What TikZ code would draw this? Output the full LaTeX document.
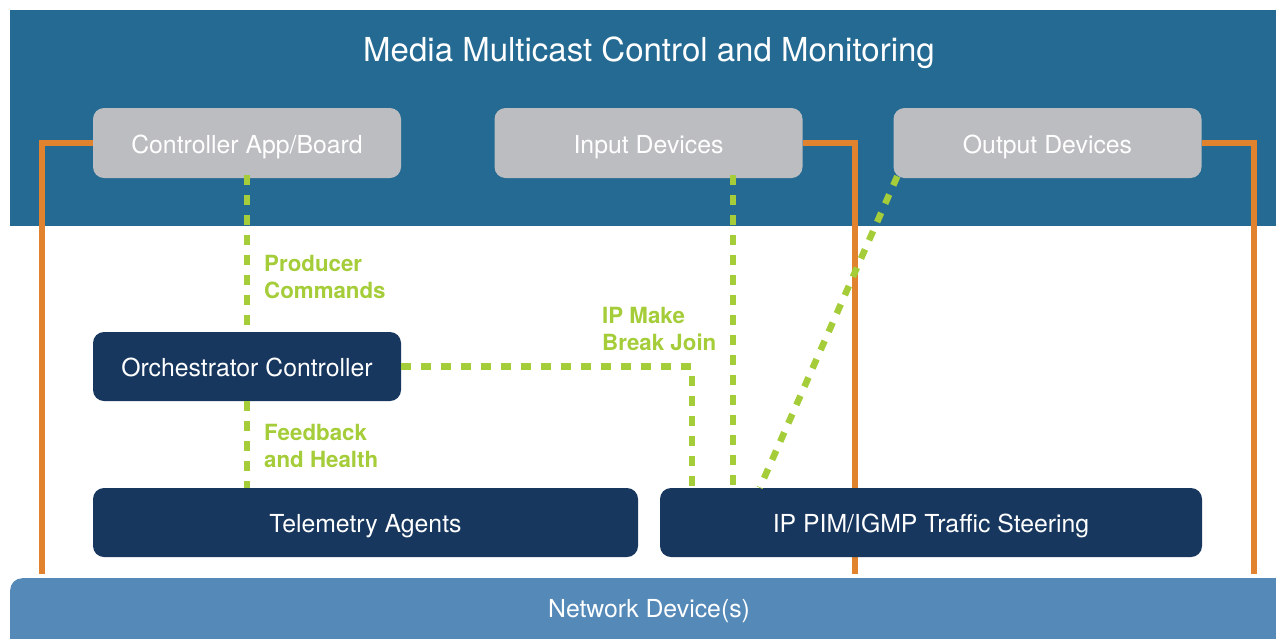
\documentclass[tikz,border=0pt]{standalone}
\usepackage{fontspec}
\setmainfont{TeX Gyre Heros}
\definecolor{bandblue}{RGB}{36,106,146}
\definecolor{boxgray}{RGB}{188,189,193}
\definecolor{navy}{RGB}{23,55,94}
\definecolor{netblue}{RGB}{84,137,184}
\definecolor{wire}{RGB}{224,130,46}
\definecolor{sgreen}{RGB}{165,205,57}
\tikzset{
  boxfont/.style={font=\fontsize{24.8}{28}\selectfont},
  graybox/.style={fill=boxgray, rounded corners=11pt, text=white, inner sep=0pt,
    minimum width=308pt, minimum height=70pt, text height=21pt, text depth=0pt, boxfont},
  navybox/.style={fill=navy, rounded corners=11pt, text=white, inner sep=0pt,
    minimum height=69pt, text height=19pt, text depth=0pt, boxfont},
  wireline/.style={draw=wire, line width=6pt, line join=miter},
  signal/.style={draw=sgreen, line width=6.5pt, dash pattern=on 10pt off 10pt},
  siglabel/.style={text=sgreen, font=\fontsize{22.3}{27}\selectfont\bfseries,
    align=left, anchor=west, inner sep=0pt}
}
\begin{document}
\begin{tikzpicture}[x=1pt,y=-1pt]
\clip (0,0) rectangle (1276,638);
\fill[white] (0,0) rectangle (1276,638);
% top control band
\fill[bandblue] (10,10) rectangle (1290,226);
\node[text=white, font=\fontsize{33}{38}\selectfont] (title) at (649,53) {Media Multicast Control and Monitoring};

% application-layer boxes
\node[graybox] (ctrl) at (247,143) {Controller App/Board};
\node[graybox] (input) at (648.5,143) {Input Devices};
\node[graybox] (output) at (1047.5,143) {Output Devices};

% physical wiring down to the network devices
\coordinate (nettop) at (0,578);
\coordinate (lbend) at ([xshift=-51pt]ctrl.west);
\coordinate (mbend) at ([xshift=52pt]input.east);
\coordinate (rbend) at ([xshift=52pt]output.east);
\draw[wireline] (ctrl.west) -- (lbend) -- ([yshift=4pt]lbend |- nettop);
\draw[wireline] (input.east) -- (mbend) -- ([yshift=4pt]mbend |- nettop);
\draw[wireline] (output.east) -- (rbend) -- ([yshift=4pt]rbend |- nettop);

% network device bar
\node[fill=netblue, rounded corners=12pt, minimum width=1300pt, minimum height=120pt,
  anchor=north west, inner sep=0pt] (net) at (10,578) {};
\node[text=white, boxfont] (nettext) at (649,611) {Network Device(s)};

% control-plane boxes
\node[navybox, minimum width=308pt] (orch) at (247,366.5) {Orchestrator Controller};
\node[navybox, minimum width=545pt] (tel) at (365.5,522.5) {Telemetry Agents};
\node[navybox, minimum width=542pt] (pim) at (931,522.5) {IP PIM/IGMP Traffic Steering};

% signalling paths
\draw[signal] ([yshift=3pt]ctrl.south) -- (orch.north);
\draw[signal] (orch.south) -- (tel.north -| orch.south);
\coordinate (joinpt) at ([xshift=32pt]pim.north west);
\draw[signal] (orch.east) -| (joinpt);
\coordinate (inpt) at ([xshift=84.5pt]input.south);
\draw[signal] ([yshift=3pt]inpt) -- (inpt |- pim.north);
\coordinate (outpt) at ([xshift=4pt,yshift=2pt]output.south west);
\coordinate (pimpt) at ([xshift=100pt]pim.north west);
\draw[signal] (outpt) -- (pimpt);

% signal labels
\node[siglabel] (prod) at (264,277) {Producer\\Commands};
\node[siglabel] (feed) at (264,445.5) {Feedback\\and Health};
\node[siglabel] (mbj) at (602,329) {IP Make\\Break Join};
\end{tikzpicture}
\end{document}
